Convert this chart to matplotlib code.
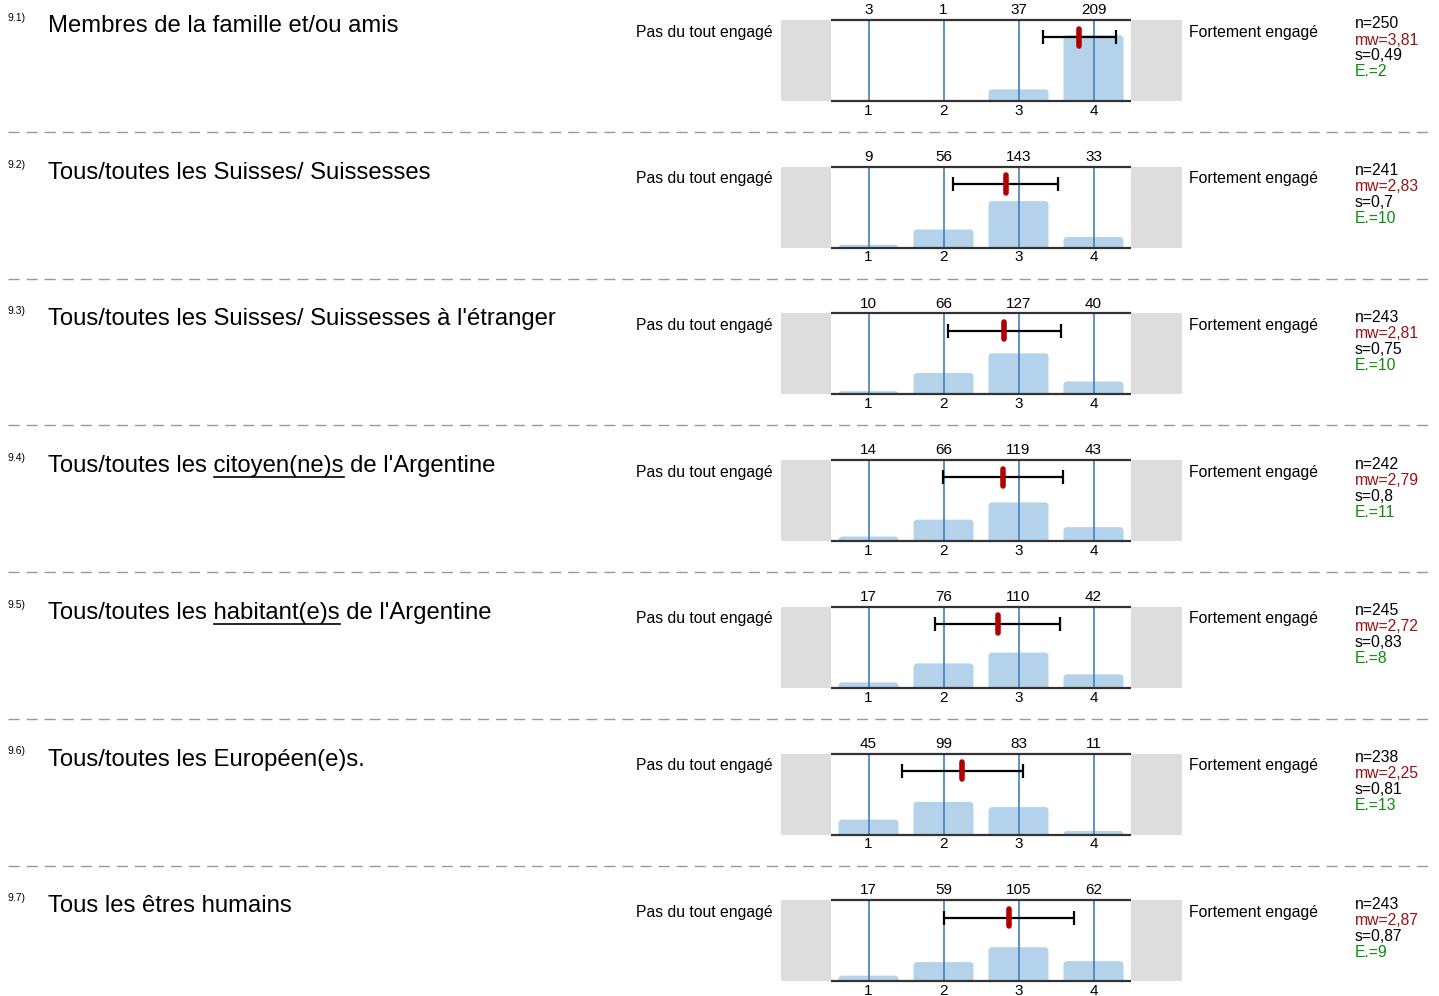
import numpy as np
import matplotlib
matplotlib.use("Agg")
import matplotlib.pyplot as plt
from matplotlib.patches import FancyBboxPatch

plt.rcParams['font.family'] = ['Liberation Sans', 'DejaVu Sans']

numbers = ["9.1)", "9.2)", "9.3)", "9.4)", "9.5)", "9.6)", "9.7)"]
# (prefix, underlined word, rest)
titles = [
    ("Membres de la famille et/ou amis", "", ""),
    ("Tous/toutes les Suisses/ Suissesses", "", ""),
    ("Tous/toutes les Suisses/ Suissesses à l'étranger", "", ""),
    ("Tous/toutes les ", "citoyen(ne)s", " de l'Argentine"),
    ("Tous/toutes les ", "habitant(e)s", " de l'Argentine"),
    ("Tous/toutes les Européen(e)s.", "", ""),
    ("Tous les êtres humains", "", ""),
]
counts = [
    [3, 1, 37, 209],
    [9, 56, 143, 33],
    [10, 66, 127, 40],
    [14, 66, 119, 43],
    [17, 76, 110, 42],
    [45, 99, 83, 11],
    [17, 59, 105, 62],
]
n_vals = [250, 241, 243, 242, 245, 238, 243]
mw_vals = [3.81, 2.83, 2.81, 2.79, 2.72, 2.25, 2.87]
s_vals = [0.49, 0.7, 0.75, 0.8, 0.83, 0.81, 0.87]
e_vals = [2, 10, 10, 11, 8, 13, 9]
left_label = "Pas du tout engagé"
right_label = "Fortement engagé"
cats = [1, 2, 3, 4]

W, H = 1439, 996
fig = plt.figure(figsize=(W / 100, H / 100), dpi=100)
renderer = fig.canvas.get_renderer()

def fx(x):
    return x / W

def fy(y):
    return 1 - y / H

def text_w(s, size):
    t = fig.text(0, 0, s, fontsize=size)
    w = t.get_window_extent(renderer).width
    t.remove()
    return w

TS = 17.2
LS = 11.3
step = 146.7
ytop = 1.03
for i in range(len(counts)):
    y0 = step * i
    # number + title
    fig.text(fx(8), fy(y0 + 21), numbers[i], fontsize=7.5, va='baseline')
    pre, und, post = titles[i]
    fig.text(fx(48), fy(y0 + 32), pre + und + post, fontsize=TS, va='baseline')
    if und:
        w_pre = text_w(pre.rstrip() + "_", TS) - text_w("_", TS) \
            + text_w("a b", TS) - text_w("ab", TS)
        w_full = text_w(pre + und, TS)
        fig.add_artist(plt.Line2D([fx(48 + w_pre + 1), fx(48 + w_full)], [fy(y0 + 37)] * 2,
                                  color='black', lw=1.2, transform=fig.transFigure))

    # side labels
    fig.text(fx(773), fy(y0 + 32), left_label, fontsize=LS, ha='right', va='center')
    fig.text(fx(1189), fy(y0 + 32), right_label, fontsize=LS, ha='left', va='center')

    # stats
    fig.text(fx(1355), fy(y0 + 24), "n=%d" % n_vals[i], fontsize=LS, va='center')
    fig.text(fx(1355), fy(y0 + 40), ("mw=%.2f" % mw_vals[i]).replace('.', ','),
             fontsize=LS, va='center', color='#9b1111')
    fig.text(fx(1355), fy(y0 + 56), ("s=%g" % s_vals[i]).replace('.', ','),
             fontsize=LS, va='center')
    fig.text(fx(1355), fy(y0 + 72), "E.=%d" % e_vals[i], fontsize=LS, va='center',
             color='#0a8a0a')

    # chart
    ax = fig.add_axes([fx(781), fy(y0 + 101), (1182 - 781) / W, 81 / H])
    ax.set_xlim(-0.1667, 5.18)
    ax.set_ylim(0, ytop)
    ax.axvspan(-0.1667, 0.5, color='#dddddd', lw=0)
    ax.axvspan(4.5, 5.18, color='#dddddd', lw=0)
    pct = np.array(counts[i]) / sum(counts[i])
    bars = ax.bar(cats, pct, width=0.8, color='#b4d3eb', zorder=2)
    r = 0.05
    for b in bars:
        p = FancyBboxPatch((b.get_x(), -r), b.get_width(), b.get_height() + r,
                           boxstyle="round,pad=0,rounding_size=%g" % r,
                           fc='#b4d3eb', ec='none', zorder=2)
        ax.add_patch(p)
        b.remove()
    ax.vlines(cats, 0, ytop, color='#3f7fbf', lw=1.2, zorder=3)
    ax.hlines([0, ytop], 0.5, 4.5, color='#333333', lw=1.6, zorder=4, clip_on=False)
    ax.errorbar(mw_vals[i], 0.81, xerr=s_vals[i], color='black', lw=1.6,
                capsize=5, capthick=1.6, zorder=5)
    ax.plot([mw_vals[i]] * 2, [0.81 - 0.11, 0.81 + 0.11], color='#b00000', lw=4,
            solid_capstyle='round', zorder=6)
    for c, v in zip(cats, counts[i]):
        ax.annotate(str(v), (c, ytop), xytext=(0, 2), textcoords='offset points',
                    ha='center', va='bottom', fontsize=11)
    ax.set_xticks(cats)
    ax.set_xticklabels([str(c) for c in cats], fontsize=11)
    ax.tick_params(axis='x', length=0, pad=2)
    ax.set_yticks([])
    for sp in ax.spines.values():
        sp.set_visible(False)

    # separator
    if i < len(counts) - 1:
        ysep = y0 + 132
        fig.add_artist(plt.Line2D([fx(8), fx(1430)], [fy(ysep)] * 2, color='#999999',
                                  lw=1, ls=(0, (8, 5)), transform=fig.transFigure))

fig.savefig("out.png", dpi=100)
